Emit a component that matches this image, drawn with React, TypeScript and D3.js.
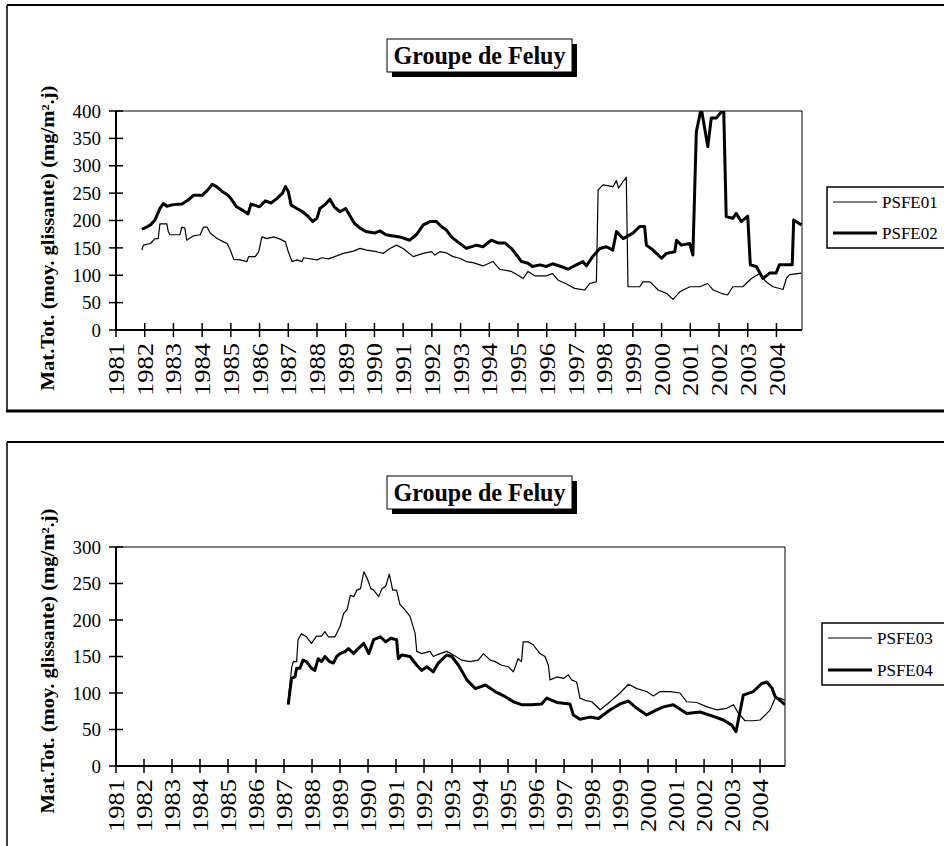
import React from 'react';
import * as d3 from 'd3';

// Year ticks on the category axis
const yearLabels = ['1981', '1982', '1983', '1984', '1985', '1986', '1987', '1988', '1989', '1990', '1991', '1992',
  '1993', '1994', '1995', '1996', '1997', '1998', '1999', '2000', '2001', '2002', '2003', '2004'];

const topTicks = [0, 50, 100, 150, 200, 250, 300, 350, 400];
const bottomTicks = [0, 50, 100, 150, 200, 250, 300];

// PSFE01 (thin) - decimal years and moving-average values
const psfe01Years = [1981.9, 1981.95, 1982.2, 1982.36, 1982.47, 1982.53, 1982.77, 1982.82, 1982.88, 1983.23, 1983.29, 1983.4,
  1983.46, 1983.7, 1983.93, 1984.05, 1984.17, 1984.28, 1984.52, 1984.75, 1984.87, 1984.98, 1985.1, 1985.33, 1985.56, 1985.62,
  1985.85, 1985.97, 1986.08, 1986.26, 1986.49, 1986.72, 1986.9, 1987.0, 1987.13, 1987.3, 1987.48, 1987.53, 1988.0, 1988.17,
  1988.4, 1988.57, 1988.92, 1989.27, 1989.5, 1989.73, 1990.08, 1990.31, 1990.54, 1990.77, 1991.0, 1991.35, 1991.7, 1991.99,
  1992.1, 1992.28, 1992.5, 1992.74, 1992.97, 1993.2, 1993.43, 1993.78, 1994.13, 1994.36, 1994.77, 1995.0, 1995.18, 1995.35,
  1995.58, 1995.99, 1996.2, 1996.4, 1996.69, 1996.97, 1997.32, 1997.5, 1997.73, 1997.79, 1997.96, 1998.31, 1998.43, 1998.5,
  1998.77, 1998.83, 1999.24, 1999.35, 1999.6, 1999.88, 2000.17, 2000.4, 2000.64, 2000.98, 2001.33, 2001.6, 2001.8, 2002.08,
  2002.3, 2002.48, 2002.83, 2003.13, 2003.41, 2003.64, 2003.88, 2004.23, 2004.35, 2004.46, 2004.87];
const psfe01Values = [146, 155, 158, 167, 167, 194, 194, 180, 174, 174, 188, 186,
  164, 172, 174, 188, 188, 177, 167, 161, 158, 146, 129, 128, 125, 134,
  134, 143, 170, 167, 170, 166, 161, 143, 125, 128, 125, 132, 128, 132,
  130, 133, 140, 144, 149, 146, 143, 140, 149, 155, 149, 134, 140, 143,
  137, 143, 141, 134, 131, 125, 123, 117, 125, 111, 107, 100, 94, 107,
  99, 99, 103, 91, 84, 76, 73, 85, 88, 256, 265, 262, 273, 259,
  279, 79, 79, 88, 88, 73, 67, 56, 70, 79, 79, 85, 73, 67,
  64, 79, 79, 94, 103, 88, 79, 74, 95, 101, 104];

// PSFE02 (thick)
const psfe02Years = [1981.9, 1982.1, 1982.2, 1982.36, 1982.53, 1982.65, 1982.77, 1983.0, 1983.3, 1983.5, 1983.7, 1984.0,
  1984.2, 1984.35, 1984.5, 1984.7, 1984.9, 1985.0, 1985.2, 1985.4, 1985.6, 1985.7, 1986.0, 1986.2, 1986.4, 1986.6, 1986.8,
  1986.9, 1987.0, 1987.1, 1987.3, 1987.5, 1987.7, 1987.85, 1988.0, 1988.1, 1988.3, 1988.45, 1988.6, 1988.8, 1989.0, 1989.1,
  1989.3, 1989.5, 1989.7, 1990.0, 1990.2, 1990.4, 1990.6, 1990.88, 1991.23, 1991.46, 1991.7, 1991.93, 1992.16, 1992.33,
  1992.5, 1992.68, 1992.9, 1993.2, 1993.55, 1993.78, 1994.07, 1994.3, 1994.54, 1994.77, 1994.95, 1995.12, 1995.35, 1995.5,
  1995.76, 1995.99, 1996.2, 1996.5, 1996.74, 1997.03, 1997.26, 1997.38, 1997.6, 1997.85, 1998.08, 1998.3, 1998.43, 1998.66,
  1999.0, 1999.24, 1999.41, 1999.47, 1999.7, 2000.0, 2000.17, 2000.46, 2000.52, 2000.69, 2000.98, 2001.09, 2001.21, 2001.38,
  2001.61, 2001.73, 2001.9, 2002.08, 2002.16, 2002.25, 2002.48, 2002.6, 2002.77, 2003.0, 2003.09, 2003.3, 2003.53, 2003.76,
  2003.99, 2004.1, 2004.55, 2004.6, 2004.87];
const psfe02Values = [184, 189, 192, 201, 222, 231, 226, 229, 230, 237, 246, 246,
  256, 266, 262, 253, 246, 240, 225, 219, 212, 230, 225, 236, 232, 240, 250,
  262, 253, 228, 222, 216, 207, 198, 204, 222, 230, 239, 225, 216, 222, 213,
  195, 186, 180, 177, 181, 174, 172, 170, 164, 174, 192, 198, 198, 189,
  183, 170, 161, 149, 155, 152, 164, 159, 159, 149, 137, 125, 122, 116,
  119, 116, 121, 116, 111, 119, 125, 117, 134, 149, 152, 146, 180, 167,
  177, 189, 189, 155, 146, 131, 140, 143, 164, 155, 158, 137, 362, 405,
  335, 387, 387, 398, 410, 207, 204, 213, 198, 208, 119, 116, 94, 104,
  104, 119, 119, 201, 192];

// PSFE03 (thin)
const psfe03Years = [1987.15, 1987.27, 1987.33, 1987.45, 1987.5, 1987.62, 1987.8, 1987.98, 1988.16, 1988.34, 1988.46, 1988.58,
  1988.82, 1989.0, 1989.13, 1989.25, 1989.37, 1989.49, 1989.6, 1989.73, 1989.85, 1989.97, 1990.1, 1990.2, 1990.38, 1990.5,
  1990.63, 1990.76, 1990.88, 1991.02, 1991.14, 1991.32, 1991.5, 1991.68, 1991.74, 1991.92, 1992.21, 1992.33, 1992.57, 1992.81,
  1993.05, 1993.35, 1993.64, 1993.94, 1994.12, 1994.36, 1994.54, 1994.77, 1995.01, 1995.19, 1995.36, 1995.48, 1995.54, 1995.72,
  1995.9, 1996.14, 1996.32, 1996.44, 1996.5, 1996.74, 1996.98, 1997.15, 1997.27, 1997.45, 1997.57, 1997.75, 1997.99, 1998.29,
  1998.58, 1999.0, 1999.3, 1999.6, 1999.95, 2000.19, 2000.43, 2000.79, 2001.14, 2001.38, 2001.74, 2002.1, 2002.45, 2002.81,
  2003.05, 2003.23, 2003.46, 2003.76, 2004.0, 2004.24, 2004.36, 2004.54, 2004.71, 2004.89];
const psfe03Values = [90, 134, 143, 143, 173, 181, 177, 168, 178, 178, 184, 177,
  177, 191, 209, 214, 234, 232, 241, 243, 266, 257, 243, 241, 232, 243,
  246, 263, 241, 241, 221, 214, 205, 182, 157, 154, 157, 150, 154, 157,
  152, 145, 143, 145, 154, 145, 143, 138, 136, 129, 147, 143, 170, 170,
  166, 154, 150, 138, 118, 122, 120, 125, 118, 115, 93, 90, 88, 77,
  86, 100, 112, 106, 102, 96, 102, 102, 100, 88, 87, 81, 77, 79,
  84, 72, 62, 62, 63, 72, 77, 93, 93, 90];

// PSFE04 (thick)
const psfe04Years = [1987.15, 1987.27, 1987.39, 1987.45, 1987.57, 1987.68, 1987.8, 1987.98, 1988.1, 1988.22, 1988.34, 1988.46,
  1988.63, 1988.76, 1988.88, 1989.0, 1989.19, 1989.3, 1989.49, 1989.6, 1989.85, 1990.03, 1990.2, 1990.44, 1990.63, 1990.81,
  1991.02, 1991.08, 1991.2, 1991.5, 1991.74, 1991.92, 1992.1, 1992.33, 1992.51, 1992.81, 1992.99, 1993.23, 1993.53, 1993.83,
  1994.19, 1994.54, 1994.9, 1995.19, 1995.48, 1995.84, 1996.2, 1996.38, 1996.74, 1997.21, 1997.33, 1997.57, 1997.92, 1998.23,
  1998.65, 1999.0, 1999.3, 1999.6, 1999.95, 2000.31, 2000.55, 2000.9, 2001.38, 2001.86, 2002.33, 2002.69, 2002.99, 2003.14,
  2003.4, 2003.76, 2004.06, 2004.24, 2004.42, 2004.54, 2004.71, 2004.89];
const psfe04Values = [84, 120, 122, 134, 134, 145, 143, 134, 131, 147, 143, 150,
  143, 141, 150, 154, 157, 161, 154, 159, 168, 154, 173, 177, 170, 175,
  173, 147, 152, 150, 138, 131, 136, 129, 141, 152, 150, 138, 118, 106,
  111, 102, 95, 88, 84, 84, 85, 93, 87, 85, 70, 64, 67, 65,
  77, 85, 89, 79, 70, 77, 81, 84, 72, 74, 68, 63, 56, 47,
  97, 102, 113, 115, 107, 95, 90, 84];

const FONT = '"Liberation Serif", "Times New Roman", serif';

type Series = { name: string; years: number[]; values: number[]; width: number };

type ChartProps = {
  id: string;
  frameTop: number;
  plotTop: number;
  plotBottom: number;
  plotRight: number;
  yMax: number;
  ticks: number[];
  series: Series[];
  legendX: number;
  legendTop: number;
  legendBottom: number;
  titleY: number;
  axisTitleY: number;
};

const Chart = (p: ChartProps) => {
  const plotLeft = 116;
  const x = d3.scaleLinear().domain([1981, 2004.89]).range([plotLeft, p.plotRight]);
  const y = d3.scaleLinear().domain([0, p.yMax]).range([p.plotBottom, p.plotTop]);
  const line = d3.line<[number, number]>().x((d) => x(d[0])).y((d) => y(d[1]));

  const legendRows = [p.legendTop + 15, p.legendBottom - 15];

  return (
    <g>
      <defs>
        <clipPath id={`clip-${p.id}`}>
          <rect x={plotLeft} y={p.plotTop} width={p.plotRight - plotLeft} height={p.plotBottom - p.plotTop} />
        </clipPath>
      </defs>

      {/* chart frame */}
      <line x1={7} x2={7} y1={p.frameTop} y2={p.frameTop === 5 ? 411 : 846} stroke="#000" strokeWidth={1.5} />
      <line x1={7} x2={944} y1={p.frameTop} y2={p.frameTop} stroke="#000" strokeWidth={2} />
      {p.frameTop === 5 && <line x1={6} x2={944} y1={411} y2={411} stroke="#000" strokeWidth={3} />}

      {/* title box with shadow */}
      <rect x={392} y={p.titleY + 5} width={185} height={33} fill="#000" />
      <rect x={387} y={p.titleY} width={185} height={33} fill="#fff" stroke="#000" strokeWidth={1} />
      <text x={479.5} y={p.titleY + 25} textAnchor="middle" fontFamily={FONT} fontWeight="bold" fontSize={25}
        textLength={172} lengthAdjust="spacingAndGlyphs">Groupe de Feluy</text>

      {/* plot border top / right */}
      <line x1={plotLeft} x2={p.plotRight} y1={p.plotTop} y2={p.plotTop} stroke="#000" strokeWidth={1} />
      <line x1={p.plotRight} x2={p.plotRight} y1={p.plotTop} y2={p.plotBottom} stroke="#000" strokeWidth={1} />

      {/* series */}
      <g clipPath={`url(#clip-${p.id})`}>
        {p.series.map((s) => (
          <path key={s.name} d={line(s.years.map((yr, i) => [yr, s.values[i]] as [number, number])) || ''}
            fill="none" stroke="#000" strokeWidth={s.width} strokeLinejoin="round" />
        ))}
      </g>

      {/* y axis */}
      <line x1={plotLeft} x2={plotLeft} y1={p.plotTop} y2={p.plotBottom} stroke="#000" strokeWidth={2} />
      {p.ticks.map((t) => (
        <g key={t}>
          <line x1={plotLeft - 7} x2={plotLeft + 7} y1={y(t)} y2={y(t)} stroke="#000" strokeWidth={1.5} />
          <text x={101} y={y(t)} dy="0.35em" textAnchor="end" fontFamily={FONT} fontSize={19}>{t}</text>
        </g>
      ))}

      {/* x axis */}
      <line x1={plotLeft} x2={p.plotRight} y1={p.plotBottom} y2={p.plotBottom} stroke="#000" strokeWidth={2} />
      {yearLabels.map((lab) => {
        const tx = x(+lab);
        return (
          <g key={lab}>
            <line x1={tx} x2={tx} y1={p.plotBottom - 7} y2={p.plotBottom + 7} stroke="#000" strokeWidth={1.5} />
            <text transform={`translate(${tx},${p.plotBottom + 13}) rotate(-90)`} dy="0.35em" textAnchor="end"
              fontFamily={FONT} fontSize={23} textLength={53} lengthAdjust="spacingAndGlyphs">{lab}</text>
          </g>
        );
      })}

      {/* axis title */}
      <text transform={`translate(48,${p.axisTitleY}) rotate(-90)`} dy="0.35em" textAnchor="middle"
        fontFamily={FONT} fontWeight="bold" fontSize={18} textLength={305} lengthAdjust="spacingAndGlyphs">
        Mat.Tot. (moy. glissante) (mg/m².j)
      </text>

      {/* legend */}
      <rect x={p.legendX} y={p.legendTop} width={200} height={p.legendBottom - p.legendTop} fill="#fff" stroke="#000" strokeWidth={1.5} />
      {p.series.map((s, i) => (
        <g key={s.name}>
          <line x1={p.legendX + 6} x2={p.legendX + 50} y1={legendRows[i]} y2={legendRows[i]} stroke="#000" strokeWidth={s.width} />
          <text x={p.legendX + 55} y={legendRows[i]} dy="0.35em" fontFamily={FONT} fontSize={17}>{s.name}</text>
        </g>
      ))}
    </g>
  );
};

export default function App() {
  const topSeries: Series[] = [
    { name: 'PSFE01', years: psfe01Years, values: psfe01Values, width: 1.2 },
    { name: 'PSFE02', years: psfe02Years, values: psfe02Values, width: 3 },
  ];
  const bottomSeries: Series[] = [
    { name: 'PSFE03', years: psfe03Years, values: psfe03Values, width: 1.2 },
    { name: 'PSFE04', years: psfe04Years, values: psfe04Values, width: 3 },
  ];

  return (
    <svg width={944} height={846} style={{ position: 'absolute', left: 0, top: 0, background: '#fff' }}>
      <Chart id="a" frameTop={5} plotTop={111} plotBottom={330} plotRight={802} yMax={400} ticks={topTicks}
        series={topSeries} legendX={827} legendTop={187} legendBottom={248} titleY={39} axisTitleY={238} />
      <Chart id="b" frameTop={442} plotTop={547} plotBottom={766} plotRight={785} yMax={300} ticks={bottomTicks}
        series={bottomSeries} legendX={822} legendTop={623} legendBottom={685} titleY={476} axisTitleY={661} />
    </svg>
  );
}
